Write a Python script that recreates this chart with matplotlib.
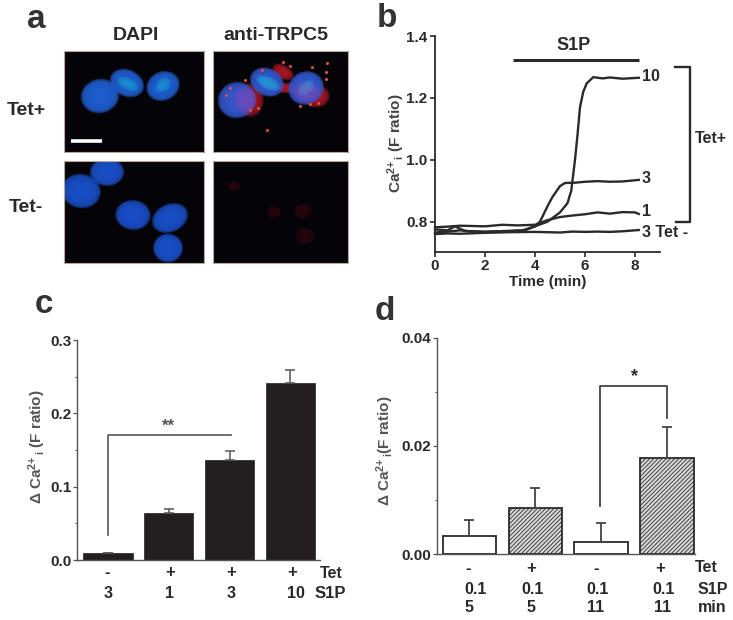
import matplotlib
matplotlib.use('Agg')
import matplotlib.pyplot as plt
from matplotlib.patches import Ellipse

W, H = 733, 620
DARK = '#2a2a2a'
GREY = '#555555'

plt.rcParams['font.family'] = ['Liberation Sans', 'DejaVu Sans']
plt.rcParams['font.weight'] = 'bold'
plt.rcParams['axes.labelweight'] = 'bold'
plt.rcParams['mathtext.fontset'] = 'custom'
plt.rcParams['mathtext.rm'] = 'Liberation Sans:bold'
plt.rcParams['mathtext.it'] = 'Liberation Sans:normal'
plt.rcParams['mathtext.default'] = 'rm'
plt.rcParams['hatch.linewidth'] = 0.7

# panel b traces
t_10 = [0, 0.5, 1, 1.5, 2, 2.5, 3, 3.5, 4, 4.5, 5, 5.3, 5.45, 5.6, 5.7, 5.8, 5.93, 6.07, 6.33, 6.7, 7, 7.5, 8.15]
ca_10 = [.765, .768, .772, .768, .766, .769, .77, .772, .785, .80, .83, .86, .90, 1.0, 1.08, 1.17, 1.22, 1.247, 1.267, 1.263, 1.266, 1.262, 1.265]
t_3 = [0, 0.5, 0.8, 1.2, 2, 3, 3.6, 4, 4.2, 4.5, 4.7, 5, 5.2, 5.6, 6, 6.5, 7, 7.5, 8.15]
ca_3 = [.775, .772, .785, .77, .768, .77, .772, .785, .80, .85, .88, .915, .925, .926, .929, .931, .929, .93, .935]
t_1 = [0, 0.5, 1, 1.5, 2, 2.7, 3.3, 4, 4.5, 5, 5.5, 6, 6.5, 7, 7.5, 8, 8.15]
ca_1 = [.782, .784, .787, .786, .785, .79, .788, .79, .805, .815, .82, .824, .83, .826, .831, .83, .825]
t_tetneg = [0, 0.5, 1, 2, 3, 4, 5, 5.5, 6, 6.5, 7, 7.5, 8.15]
ca_tetneg = [.76, .762, .761, .764, .766, .767, .765, .768, .767, .768, .767, .769, .773]
trace_labels = ['10', '3', '1', '3 Tet -']
trace_label_y = [1.269, .938, .832, .764]

# panel c bars
c_tet = ['-', '+', '+', '+']
c_s1p = ['3', '1', '3', '10']
c_values = [.009, .0636, .136, .242]
c_errors = [.001, .006, .012, .017]

# panel d bars
d_tet = ['-', '+', '-', '+']
d_s1p = ['0.1', '0.1', '0.1', '0.1']
d_min = ['5', '5', '11', '11']
d_values = [.0033, .0085, .0022, .0177]
d_errors = [.0030, .0037, .0036, .0058]

# nuclei in the micrographs: centre x, centre y, width, height, angle (figure pixels)
dapi_top = [(100, 96, 36, 32, -15), (127, 83, 33, 25, 25), (163, 86, 32, 27, -25)]
dapi_top_core = [(128, 84, 22, 11, 25), (163, 85, 16, 12, -40)]
dapi_bottom = [(107, 172, 32, 26, 0), (81, 191, 37, 32, 10), (133, 215, 33, 28, 5), (170, 218, 35, 26, -25), (168, 248, 28, 27, 0)]
trpc_top = [(237, 100, 36, 34, -15), (267, 82, 33, 26, 25), (306, 88, 34, 31, -25)]
trpc_core = [(268, 83, 24, 12, 25), (306, 88, 18, 12, -40)]
trpc_pink = [(245, 100, 22, 26, 0), (306, 92, 26, 20, 0)]
red_halo = [(250, 100, 26, 32, 0), (283, 72, 22, 13, 30), (286, 88, 20, 10, 0), (316, 96, 26, 22, 0)]
red_spots = [(267, 130), (327, 63), (326, 72), (326, 79), (312, 67), (230, 88), (250, 110), (258, 108),
             (318, 103), (310, 104), (300, 106), (262, 70), (245, 80), (283, 62), (290, 66), (226, 95)]
faint_red = [(234, 186, 12, 10, 0), (274, 212, 14, 12, 0), (303, 211, 18, 15, 0), (305, 236, 18, 17, 0)]


def px_axes(x0, y0, x1, y1):
    return fig.add_axes([x0 / W, 1 - y1 / H, (x1 - x0) / W, (y1 - y0) / H])


def ftext(x, y, s, **kw):
    kw.setdefault('color', DARK)
    kw.setdefault('ha', 'center')
    kw.setdefault('va', 'center')
    fig.text(x / W, 1 - y / H, s, **kw)


def image_panel(x0, y0, x1, y1):
    ax = px_axes(x0, y0, x1, y1)
    ax.set_xlim(x0, x1)
    ax.set_ylim(y1, y0)
    ax.set_facecolor('#040408')
    ax.set_xticks([])
    ax.set_yticks([])
    for s in ax.spines.values():
        s.set_color('#b9a49a')
        s.set_linewidth(0.8)
    return ax


def soft_ellipses(ax, items, color, alpha=0.35):
    for cx, cy, w, h, ang in items:
        for f in [1.08, 1.04, 1.0, 0.96, 0.9, 0.8, 0.7, 0.55, 0.4]:
            ax.add_patch(Ellipse((cx, cy), w * f, h * f, angle=ang, color=color, alpha=alpha, lw=0))


def clean_axes(ax, color, lw):
    ax.patch.set_alpha(0)
    ax.spines['top'].set_visible(False)
    ax.spines['right'].set_visible(False)
    ax.spines['left'].set_color(color)
    ax.spines['bottom'].set_color(color)
    ax.spines['left'].set_linewidth(lw)
    ax.spines['bottom'].set_linewidth(lw)


fig = plt.figure(figsize=(W / 100, H / 100), dpi=100)

# a
ax = image_panel(64, 51, 204, 152)
soft_ellipses(ax, dapi_top, '#1f5fd0')
soft_ellipses(ax, dapi_top_core, '#18a8d8', 0.1)
ax.plot([71, 102], [140.5, 140.5], color='white', lw=2.6, solid_capstyle='butt')

ax = image_panel(213, 51, 348, 152)
soft_ellipses(ax, red_halo, '#e02030', 0.14)
soft_ellipses(ax, trpc_top, '#3358d0')
soft_ellipses(ax, trpc_core, '#20b8e0', 0.1)
soft_ellipses(ax, trpc_pink, '#c040b0', 0.05)
ax.scatter([p[0] for p in red_spots], [p[1] for p in red_spots], s=5, color='#e84a38', lw=0)

ax = image_panel(64, 161, 204, 263)
soft_ellipses(ax, dapi_bottom, '#1a4fc8')

ax = image_panel(213, 161, 348, 263)
soft_ellipses(ax, faint_red, '#4a1018', 0.08)

ftext(136, 35, 'DAPI', fontsize=14)
ftext(276, 35, 'anti-TRPC5', fontsize=14)
ftext(26, 110, 'Tet+', fontsize=14)
ftext(26, 208, 'Tet-', fontsize=14)

# b
ax = px_axes(435, 36, 660, 251.7)
clean_axes(ax, DARK, 1.3)
for t, ca in [(t_10, ca_10), (t_3, ca_3), (t_1, ca_1), (t_tetneg, ca_tetneg)]:
    ax.plot(t, ca, color=DARK, lw=1.7, clip_on=False)
ax.set_xlim(0, 9)
ax.set_ylim(0.703, 1.4)
ax.set_xticks([0, 2, 4, 6, 8])
ax.set_yticks([0.8, 1.0, 1.2, 1.4])
ax.set_yticklabels(['0.8', '1.0', '1.2', '1.4'])
ax.tick_params(length=3.5, width=1.2, colors=DARK, labelsize=11, pad=2)
ax.set_xlabel('Time (min)', fontsize=11, color=DARK, labelpad=1)
for lab, y in zip(trace_labels, trace_label_y):
    ax.text(8.27, y, lab, fontsize=11.5, color=DARK, va='center', clip_on=False)
ax.plot([3.13, 8.17], [1.323, 1.323], color=DARK, lw=2.2, clip_on=False, solid_capstyle='butt')
ax.text(5.53, 1.368, 'S1P', fontsize=13, color=DARK, ha='center', va='center')
ax.plot([9.6, 10.2, 10.2, 9.65], [1.30, 1.30, 0.80, 0.80], color=DARK, lw=1.7, clip_on=False)
ax.text(10.4, 1.07, 'Tet+', fontsize=11.5, color=DARK, va='center', clip_on=False)
ftext(396, 143, r'Ca$^{2{+}}$$_{\,\mathrm{i}}$ (F ratio)', rotation=90, fontsize=11, color='#444444')

# c
ax = px_axes(77.3, 340, 320, 560)
clean_axes(ax, GREY, 1.0)
x_c = list(range(len(c_values)))
ax.bar(x_c, c_values, width=0.81, color='#231f20', edgecolor='#231f20', lw=0.5)
ax.errorbar(x_c, c_values, yerr=[[0] * 4, c_errors], fmt='none', ecolor=GREY, elinewidth=1.1, capsize=3.4, capthick=1.1)
ax.set_xlim(-0.506, 3.49)
ax.set_ylim(0, 0.3)
ax.set_xticks([])
ax.set_yticks([0.0, 0.1, 0.2, 0.3])
ax.set_yticks([0.05, 0.15, 0.25], minor=True)
ax.tick_params(axis='y', which='major', length=3, width=0.9, colors=GREY, labelcolor=DARK, labelsize=11, pad=1)
ax.tick_params(axis='y', which='minor', length=1.5, width=0.8, colors=GREY)
ax.plot([0, 0, 2.02], [0.034, 0.17, 0.17], color=GREY, lw=1.2, clip_on=False)
ax.text(1.0, 0.183, '**', fontsize=12, color=GREY, ha='center', va='center')
for px, a in zip([107, 170, 231, 292], c_tet):
    ftext(px, 572.5, a, fontsize=12)
for px, a in zip([108, 170, 231, 296], c_s1p):
    ftext(px, 593, a, fontsize=11.5)
ftext(320, 573, 'Tet', ha='left', fontsize=11.5)
ftext(315, 593, 'S1P', ha='left', fontsize=12)
ftext(37, 447, r'$\mathit{\Delta}$ Ca$^{2{+}}$$_{\,\mathrm{i}}$ (F ratio)', rotation=90, fontsize=11, color='#555555')

# d
ax = px_axes(436.7, 337.7, 695, 554.3)
clean_axes(ax, GREY, 1.0)
x_d = list(range(len(d_values)))
ax.bar(x_d[1::2], d_values[1::2], width=0.81, color='#d8d8d8', edgecolor='#444444', hatch='////////', lw=0)
ax.bar(x_d, d_values, width=0.81, fill=False, edgecolor=DARK, lw=1.3)
ax.errorbar(x_d, d_values, yerr=[[0] * 4, d_errors], fmt='none', ecolor='#444444', elinewidth=1.3, capsize=3.4, capthick=1.3)
ax.set_xlim(-0.495, 3.425)
ax.set_ylim(0, 0.04)
ax.set_xticks([])
ax.set_yticks([0.0, 0.02, 0.04])
ax.set_yticklabels(['0.00', '0.02', '0.04'])
ax.set_yticks([0.01, 0.03], minor=True)
ax.tick_params(axis='y', which='major', length=3, width=0.9, colors=GREY, labelcolor=DARK, labelsize=11, pad=1)
ax.tick_params(axis='y', which='minor', length=1.5, width=0.8, colors=GREY)
ax.plot([1.98, 1.98, 2.995, 2.995], [0.0089, 0.0311, 0.0311, 0.0251], color='#444444', lw=1.3, clip_on=False)
ax.text(2.5, 0.0329, '*', fontsize=13, color=DARK, ha='center', va='center')
for px, a in zip([468, 531, 596, 660], d_tet):
    ftext(px, 568, a, fontsize=12)
for px, a in zip([476, 533, 598, 664], d_s1p):
    ftext(px, 589, a, fontsize=11.5)
for px, a in zip([469, 531, 596, 663], d_min):
    ftext(px, 608, a, fontsize=11.5)
ftext(695, 568, 'Tet', ha='left', fontsize=11.5)
ftext(698, 589, 'S1P', ha='left', fontsize=11.5)
ftext(698, 608, 'min', ha='left', fontsize=11.5)
ftext(385, 451, r'$\mathit{\Delta}$ Ca$^{2{+}}$$_{\,\mathrm{i}}$(F ratio)', rotation=90, fontsize=11, color='#555555')

# panel letters
for s, x, y in [('a', 27, 28), ('b', 377, 27), ('c', 35, 313), ('d', 375, 320)]:
    ftext(x, y, s, ha='left', va='baseline', fontsize=24, color='#333333')

fig.savefig('out.png', dpi=100)
